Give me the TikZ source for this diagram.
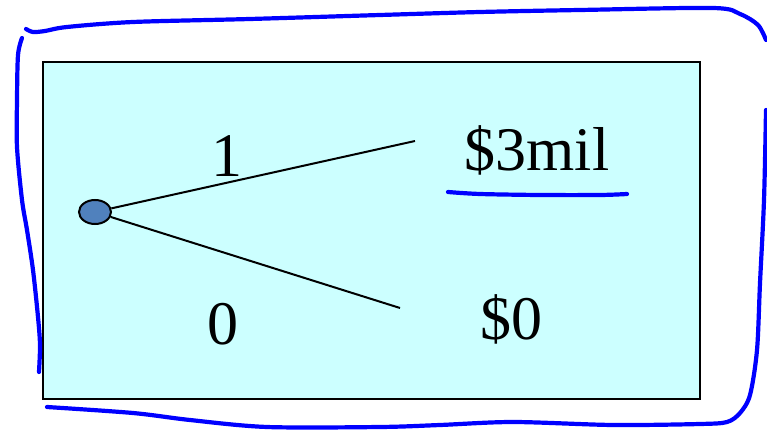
\documentclass[tikz,border=0pt]{standalone}
\usepackage{fontspec}
\setmainfont{Liberation Serif}
\usetikzlibrary{shapes.geometric}
\begin{document}
\begin{tikzpicture}[x=1pt,y=-1pt,
  lbl/.style={anchor=base,inner sep=0pt,font=\fontsize{62}{70}\selectfont},
  pen/.style={draw={rgb,255:red,0;green,0;blue,255},line width=4.2pt,line cap=round,line join=round},
  branch/.style={draw=black,line width=2pt}]
\useasboundingbox (0,0) rectangle (767,430);
\fill[white] (0,0) rectangle (767,430);
\draw[fill={rgb,255:red,204;green,255;blue,255},line width=2.6pt] (43,62) rectangle (700,399);
\node[draw=black,line width=2pt,fill={rgb,255:red,80;green,129;blue,189},ellipse,minimum width=32pt,minimum height=24pt,inner sep=0pt] (root) at (95,212) {};
\coordinate (up) at (415,141);
\coordinate (dn) at (400,308);
\draw[branch] (root) -- (up);
\draw[branch] (root) -- (dn);
\node[lbl] (p1) at (227,177) {1};
\node[lbl] (p0) at (223,344) {0};
\node[lbl] (v1) at (537,171) {\$3mil};
\node[lbl] (v0) at (511,339) {\$0};
% underline
\draw[pen] plot[smooth] coordinates {(448,192) (480,194) (540,195) (600,195) (627,194)};
% outer hand-drawn frame
\draw[pen] plot[smooth] coordinates {(26,29) (33,32) (45,31) (67,27) (133,22) (250,19) (380,15) (480,12) (580,10) (713,8) (740,14) (758,25) (766,40)};
\draw[pen] plot[smooth] coordinates {(766,110) (764,200) (760,283) (757,350) (750,395) (740,413) (727,422) (700,424) (613,425) (513,422) (440,425) (380,427) (267,427) (190,420) (133,413) (47,407)};
\draw[pen] plot[smooth] coordinates {(22,38) (18,55) (17,100) (17,147) (22,200) (27,230) (33,270) (38,317) (40,345) (39,372)};
\end{tikzpicture}
\end{document}
